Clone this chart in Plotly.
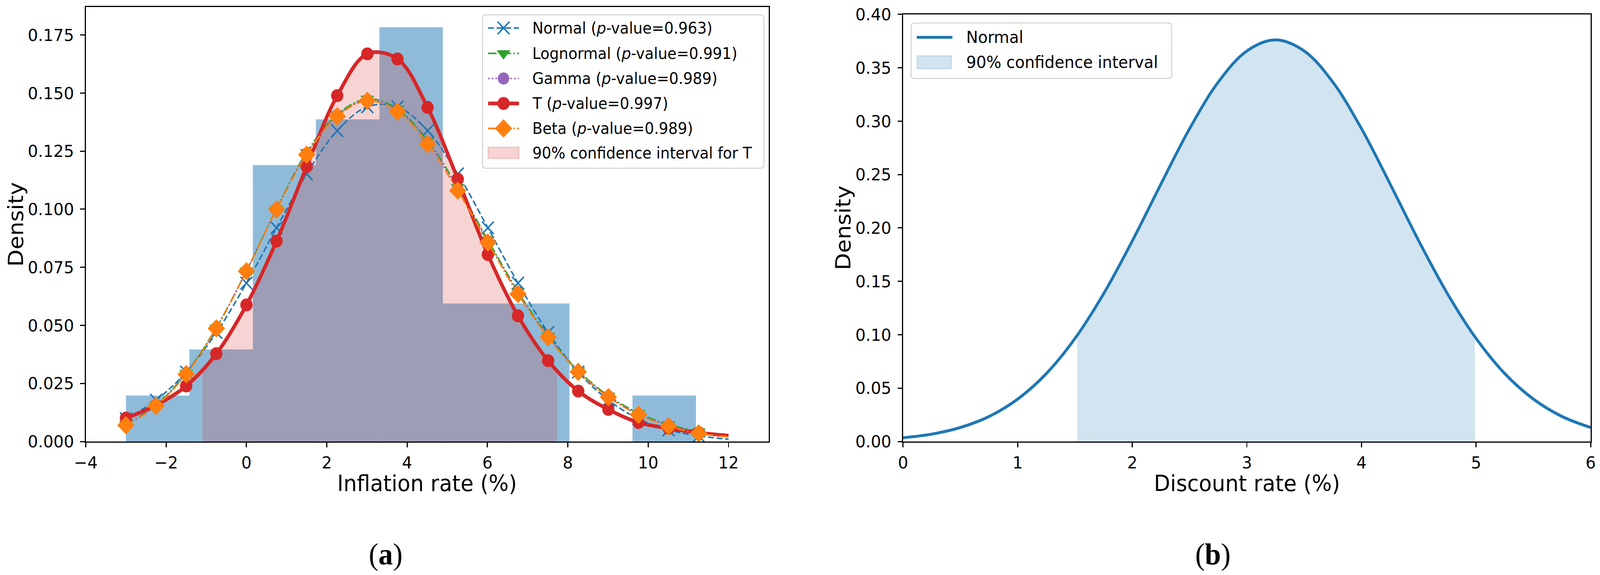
import plotly.graph_objects as go

W, H = 4304, 1473

# ---------------- data: panel (a) ----------------
hist_edges = [-3.0, -1.42, 0.16, 1.73, 3.31, 4.89, 6.46, 8.04, 9.61, 11.19]
hist_density = [0.0198, 0.0396, 0.1190, 0.1387, 0.1783, 0.0594, 0.0594, 0.0, 0.0198]

curve_x = [-3.0, -2.25, -1.5, -0.75, 0.0, 0.75, 1.5, 2.26, 3.01, 3.76, 4.51,
           5.26, 6.01, 6.76, 7.51, 8.26, 9.01, 9.76, 10.51, 11.26, 12.0]
normal_y = [0.0098, 0.0178, 0.0299, 0.0469, 0.0682, 0.0920, 0.1152, 0.1338, 0.1441, 0.1441, 0.1338,
            0.1152, 0.0920, 0.0682, 0.0469, 0.0299, 0.0178, 0.0098, 0.0050, 0.0024, 0.0010]
lognormal_y = [0.0075, 0.0157, 0.0295, 0.0490, 0.0735, 0.1002, 0.1245, 0.1408, 0.1475, 0.1432, 0.1295,
               0.1095, 0.0868, 0.0645, 0.0455, 0.0305, 0.0197, 0.0122, 0.0073, 0.0043, 0.0025]
gamma_y = [0.0072, 0.0155, 0.0293, 0.0489, 0.0734, 0.1001, 0.1240, 0.1404, 0.1471, 0.1426, 0.1288,
           0.1088, 0.0862, 0.0640, 0.0452, 0.0302, 0.0194, 0.0118, 0.0070, 0.0039, 0.0022]
t_y = [0.0101, 0.0156, 0.0239, 0.0378, 0.0588, 0.0863, 0.1184, 0.1489, 0.1669, 0.1647, 0.1438,
       0.1130, 0.0805, 0.0541, 0.0348, 0.0217, 0.0138, 0.0082, 0.0057, 0.0038, 0.0025]
beta_y = [0.0070, 0.0153, 0.0290, 0.0487, 0.0733, 0.0999, 0.1235, 0.1400, 0.1467, 0.1420, 0.1280,
          0.1080, 0.0857, 0.0635, 0.0449, 0.0300, 0.0191, 0.0115, 0.0066, 0.0035, 0.0020]
t_ci_x = [-1.095, 7.73]
t_ci_y = [0.030, 0.030]

legend_a_labels = ["Normal (<i>p</i>-value=0.963)", "Lognormal (<i>p</i>-value=0.991)",
                   "Gamma (<i>p</i>-value=0.989)", "T (<i>p</i>-value=0.997)",
                   "Beta (<i>p</i>-value=0.989)", "90% confidence interval for T"]
xticks_a = [-4, -2, 0, 2, 4, 6, 8, 10, 12]
yticks_a = [0.0, 0.025, 0.05, 0.075, 0.1, 0.125, 0.15, 0.175]

# ---------------- data: panel (b) ----------------
disc_x = [0.0, 0.25, 0.5, 0.75, 1.0, 1.25, 1.5, 1.75, 2.0, 2.25, 2.5, 2.75, 3.0, 3.25,
          3.5, 3.75, 4.0, 4.25, 4.5, 4.75, 5.0, 5.25, 5.5, 5.75, 6.0]
disc_y = [0.0035, 0.0069, 0.0131, 0.0234, 0.0397, 0.0636, 0.0965, 0.1384, 0.1878, 0.2411,
          0.2929, 0.3365, 0.3657, 0.3760, 0.3657, 0.3365, 0.2929, 0.2411, 0.1878, 0.1384,
          0.0965, 0.0636, 0.0397, 0.0234, 0.0131]
disc_ci_x = [1.52, 4.99]
disc_ci_y = [0.0985, 0.0980]
legend_b_labels = ["Normal", "90% confidence interval"]
xticks_b = [0, 1, 2, 3, 4, 5, 6]
yticks_b = [0.0, 0.05, 0.10, 0.15, 0.20, 0.25, 0.30, 0.35, 0.40]

# ---------------- styles ----------------
BLUE, ORANGE, GREEN, RED, PURPLE = "#1f77b4", "#ff7f0e", "#2ca02c", "#d62728", "#9467bd"
FONT = "DejaVu Sans"

fig = go.Figure()

# histogram
centers = [(a + b) / 2 for a, b in zip(hist_edges[:-1], hist_edges[1:])]
widths = [b - a for a, b in zip(hist_edges[:-1], hist_edges[1:])]
fig.add_trace(go.Bar(x=centers, y=hist_density, width=widths,
                     marker=dict(color="rgba(31,119,180,0.5)", line=dict(width=0)),
                     xaxis="x", yaxis="y", showlegend=False, hoverinfo="skip"))

# T confidence interval fill
def ci_poly(xs, ys, lo_hi, lo_hi_y):
    px = [lo_hi[0]] + [x for x in xs if lo_hi[0] < x < lo_hi[1]] + [lo_hi[1]]
    py = [lo_hi_y[0]] + [y for x, y in zip(xs, ys) if lo_hi[0] < x < lo_hi[1]] + [lo_hi_y[1]]
    return px, py

fx, fy = ci_poly(curve_x, t_y, t_ci_x, t_ci_y)
fig.add_trace(go.Scatter(x=fx, y=fy, mode="lines", fill="tozeroy",
                         fillcolor="rgba(214,39,40,0.2)", line=dict(width=0, shape="spline"),
                         xaxis="x", yaxis="y", showlegend=False, hoverinfo="skip"))

series = [
    (normal_y, BLUE, "16px,7px", 4, dict(symbol="x-thin", size=32, color=BLUE, line=dict(color=BLUE, width=4))),
    (lognormal_y, GREEN, "23px,6px,4px,6px", 4, dict(symbol="triangle-down", size=32, color=GREEN, line=dict(width=0))),
    (gamma_y, PURPLE, "4px,6px", 4, dict(symbol="circle", size=31, color=PURPLE, line=dict(width=0))),
    (t_y, RED, "solid", 9.5, dict(symbol="circle", size=33, color=RED, line=dict(width=0))),
    (beta_y, ORANGE, "23px,6px,4px,6px", 4, dict(symbol="diamond", size=36, color=ORANGE, line=dict(width=0))),
]
for ys, col, dash, lw, mk in series:
    fig.add_trace(go.Scatter(x=curve_x, y=ys, mode="lines",
                             line=dict(color=col, width=lw, dash=dash, shape="spline"),
                             xaxis="x", yaxis="y", showlegend=False, hoverinfo="skip"))
    fig.add_trace(go.Scatter(x=curve_x[:-1], y=ys[:-1], mode="markers", marker=mk,
                             xaxis="x", yaxis="y", showlegend=False, hoverinfo="skip"))

# panel (b)
bx, by = ci_poly(disc_x, disc_y, disc_ci_x, disc_ci_y)
fig.add_trace(go.Scatter(x=bx, y=by, mode="lines", fill="tozeroy",
                         fillcolor="rgba(31,119,180,0.2)", line=dict(width=0, shape="spline"),
                         xaxis="x2", yaxis="y2", showlegend=False, hoverinfo="skip"))
fig.add_trace(go.Scatter(x=disc_x, y=disc_y, mode="lines",
                         line=dict(color=BLUE, width=7.5, shape="spline"),
                         xaxis="x2", yaxis="y2", showlegend=False, hoverinfo="skip"))

# ---------------- custom legends (overlay axis x3/y3 spanning the figure) ----------------
def rounded_box(x0, y0, x1, y1, r):
    return (f"M{x0+r},{y0} L{x1-r},{y0} Q{x1},{y0} {x1},{y0+r} L{x1},{y1-r} Q{x1},{y1} {x1-r},{y1} "
            f"L{x0+r},{y1} Q{x0},{y1} {x0},{y1-r} L{x0},{y0+r} Q{x0},{y0} {x0+r},{y0} Z")

shapes = []
annotations = []
shapes.append(dict(type="path", path=rounded_box(1298, 38, 2055, 431, 9), xref="x3", yref="y3",
                   fillcolor="rgba(255,255,255,0.8)", line=dict(color="rgba(204,204,204,0.8)", width=3),
                   layer="below"))
shapes.append(dict(type="path", path=rounded_box(2451, 59, 3152, 201, 9), xref="x3", yref="y3",
                   fillcolor="rgba(255,255,255,0.8)", line=dict(color="rgba(204,204,204,0.8)", width=3),
                   layer="below"))

rows_a = [71.7, 136.7, 201.0, 265.0, 329.0, 391.7]
lx0, lx1, lxc = 1313, 1396, 1354.5
for (ys, col, dash, lw, mk), ry in zip(series, rows_a[:5]):
    fig.add_trace(go.Scatter(x=[lx0, lx1], y=[ry, ry], mode="lines",
                             line=dict(color=col, width=lw, dash=dash),
                             xaxis="x3", yaxis="y3", showlegend=False, hoverinfo="skip"))
    fig.add_trace(go.Scatter(x=[lxc], y=[ry], mode="markers", marker=mk,
                             xaxis="x3", yaxis="y3", showlegend=False, hoverinfo="skip"))
shapes.append(dict(type="rect", x0=1313, x1=1396, y0=377, y1=406, xref="x3", yref="y3",
                   fillcolor="rgba(214,39,40,0.2)", line=dict(color="rgba(214,39,40,0.2)", width=3)))
for lab, ry in zip(legend_a_labels, rows_a):
    annotations.append(dict(text=lab, x=1430, y=ry, xref="x3", yref="y3", xanchor="left",
                            yanchor="middle", showarrow=False,
                            font=dict(family=FONT, size=40, color="black")))

rows_b = [95.7, 159.3]
fig.add_trace(go.Scatter(x=[2466, 2562], y=[rows_b[0], rows_b[0]], mode="lines",
                         line=dict(color=BLUE, width=7.3), xaxis="x3", yaxis="y3",
                         showlegend=False, hoverinfo="skip"))
shapes.append(dict(type="rect", x0=2467, x1=2559, y0=143, y1=176, xref="x3", yref="y3",
                   fillcolor="rgba(31,119,180,0.2)", line=dict(color="rgba(31,119,180,0.2)", width=3)))
for lab, ry in zip(legend_b_labels, rows_b):
    annotations.append(dict(text=lab, x=2597, y=ry, xref="x3", yref="y3", xanchor="left",
                            yanchor="middle", showarrow=False,
                            font=dict(family=FONT, size=42.5, color="black")))

# axis labels and captions
lab_font = dict(family=FONT, size=57, color="black")
annotations += [
    dict(text="Density", x=42, y=575, textangle=-90, xref="x3", yref="y3", showarrow=False,
         xanchor="center", yanchor="middle", font=lab_font),
    dict(text="Density", x=2268, y=584, textangle=-90, xref="x3", yref="y3", showarrow=False,
         xanchor="center", yanchor="middle", font=lab_font),
    dict(text="Inflation rate (%)", x=1149, y=1238, xref="x3", yref="y3", showarrow=False,
         xanchor="center", yanchor="middle", font=lab_font),
    dict(text="Discount rate (%)", x=3354, y=1238, xref="x3", yref="y3", showarrow=False,
         xanchor="center", yanchor="middle", font=lab_font),
    dict(text="(<b>a</b>)", x=1037, y=1419, xref="x3", yref="y3", showarrow=False,
         xanchor="center", yanchor="middle", font=dict(family="Liberation Serif", size=78, color="black")),
    dict(text="(<b>b</b>)", x=3262, y=1419, xref="x3", yref="y3", showarrow=False,
         xanchor="center", yanchor="middle", font=dict(family="Liberation Serif", size=78, color="black")),
]

axis_common = dict(showline=True, mirror=True, linecolor="black", linewidth=2.7,
                   ticks="outside", ticklen=12, tickwidth=2.7, tickcolor="black",
                   showgrid=False, zeroline=False, fixedrange=True, automargin=False,
                   tickfont=dict(family=FONT, size=43.5, color="black"))

fig.update_layout(
    template="none",
    width=W, height=H, margin=dict(l=0, r=0, t=0, b=0, pad=0, autoexpand=False),
    paper_bgcolor="white", plot_bgcolor="rgba(0,0,0,0)", showlegend=False,
    barmode="overlay",
    xaxis=dict(domain=[230.7 / W, 2067.7 / W], range=[-4, 13], tickvals=xticks_a,
               anchor="y", ticklabelstandoff=2, **axis_common),
    yaxis=dict(domain=[1 - 1131 / H, 1 - 18.3 / H], range=[0, 0.187], tickvals=yticks_a,
               tickformat=".3f", anchor="x", ticklabelstandoff=8, **axis_common),
    xaxis2=dict(domain=[2429.3 / W, 4279 / W], range=[0, 6], tickvals=xticks_b,
                anchor="y2", ticklabelstandoff=2, **axis_common),
    yaxis2=dict(domain=[1 - 1131 / H, 1 - 36.7 / H], range=[0, 0.40], tickvals=yticks_b,
                tickformat=".2f", anchor="x2", ticklabelstandoff=8, **axis_common),
    xaxis3=dict(domain=[0, 1], range=[0, W], visible=False, anchor="y3", fixedrange=True, automargin=False),
    yaxis3=dict(domain=[0, 1], range=[H, 0], visible=False, anchor="x3", fixedrange=True, automargin=False),
    shapes=shapes, annotations=annotations,
)

# scale the whole 4304x1473 figure to the actual browser viewport
post = """
document.documentElement.style.margin='0';
document.body.style.margin='0';
document.body.style.overflow='hidden';
var gd = document.getElementById('{plot_id}');
var w = window.innerWidth || document.documentElement.clientWidth;
var h = window.innerHeight || document.documentElement.clientHeight;
if (w && h && (Math.abs(w - 4304) > 2 || Math.abs(h - 1473) > 2)) {
    gd.style.transformOrigin = '0 0';
    gd.style.transform = 'scale(' + (w / 4304) + ',' + (h / 1473) + ')';
}
"""
fig.write_html("out.html", config={"displayModeBar": False}, post_script=post)
